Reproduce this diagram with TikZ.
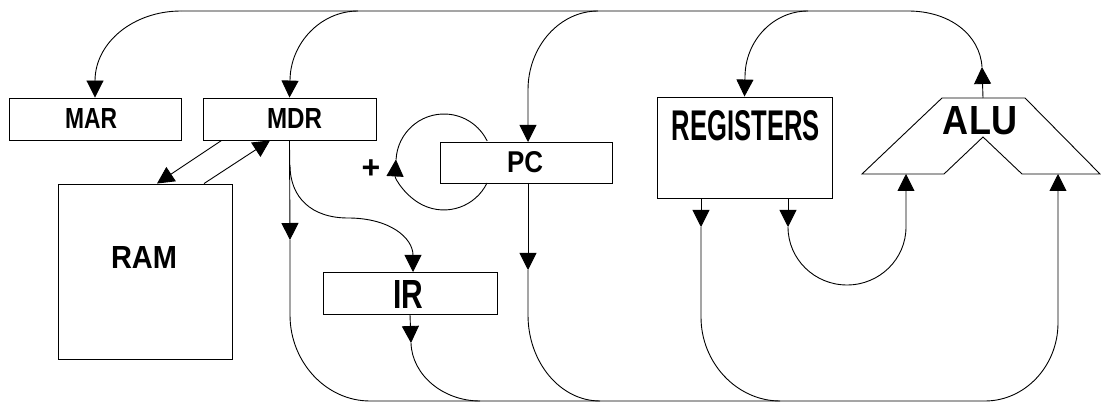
\documentclass[tikz,border=0pt]{standalone}
\usepackage{fontspec}
\setmainfont{Liberation Sans}
\usetikzlibrary{arrows.meta}
\begin{document}
\begin{tikzpicture}[x=1pt,y=-1pt,line width=0.9pt,
  arr/.style={-{Triangle[width=17pt,length=17pt]}},
  box/.style={draw,inner sep=0pt,line width=0.9pt},
  lbl/.style={inner sep=0pt}]
\useasboundingbox (0,0) rectangle (1101,403);

% boxes
\node[box,minimum width=172pt,minimum height=42pt] (MAR) at (95,119) {};
\node[box,minimum width=173pt,minimum height=42pt] (MDR) at (289.5,119) {};
\node[box,minimum width=174pt,minimum height=175pt] (RAM) at (145,271.5) {};
\node[box,minimum width=172pt,minimum height=41pt] (PC) at (526,162.5) {};
\node[box,minimum width=174pt,minimum height=42pt] (IR) at (410,293) {};
\node[box,minimum width=175pt,minimum height=101pt] (REG) at (744.5,147.5) {};
\draw (942,98) -- (1025,98) -- (1100,174) -- (1022,174) -- (983,137) -- (944,174) -- (862,174) -- cycle;
\coordinate (ALUtop) at (983,98);
\coordinate (ALUinL) at (906,174);
\coordinate (ALUinR) at (1058,174);

% labels
\node[lbl] (tMAR) at (91,118.5) {\resizebox{52pt}{20pt}{\textbf{MAR}}};
\node[lbl] (tMDR) at (294.5,118.5) {\resizebox{55pt}{20pt}{\textbf{MDR}}};
\node[lbl] (tRAM) at (144,257) {\resizebox{66pt}{22pt}{\textbf{RAM}}};
\node[lbl] (tPC) at (525,162.5) {\resizebox{36pt}{21pt}{\textbf{PC}}};
\node[lbl] (tIR) at (408,294) {\resizebox{30pt}{28pt}{\textbf{IR}}};
\node[lbl] (tREG) at (746,125.5) {\resizebox{148pt}{30pt}{\textbf{REGISTERS}}};
\node[lbl] (tALU) at (980,121) {\resizebox{74pt}{28pt}{\textbf{ALU}}};
\node[lbl] (plus) at (371,169) {\fontsize{32}{32}\selectfont\textbf{+}};

% top bus
\coordinate (tb1) at (181,11);
\coordinate (tb2) at (908,11);
\draw (tb1) -- (tb2) .. controls (950,11) and (980,35) .. (982,67);
\draw[arr] (ALUtop) -- (982,67);
\draw[arr] (tb1) .. controls (134,11) and (95,42) .. (95,81) -- (MAR.north);
\draw[arr] (358,11) .. controls (321,11) and (290,43) .. (290,81) -- (MDR.north);
\draw[arr] (598,11) .. controls (560,11) and (528,46) .. (528,90) -- (528,142);
\draw[arr] (808,11) .. controls (773,11) and (745,41) .. (745,77) -- (REG.north);

% MDR <-> RAM
\draw[arr] ([xshift=19pt]MDR.south west) -- ([xshift=12pt]RAM.north);
\draw[arr] ([xshift=59pt]RAM.north) -- ([xshift=-19.5pt]MDR.south);

% MDR down to bus, bus to ALU right input
\draw[arr] (MDR.south) -- (290,240);
\draw[arr] (290,240) -- (290,315) .. controls (290,362) and (326,401) .. (370,401)
  -- (985,401) .. controls (1025,401) and (1058,366) .. (1058,323) -- (ALUinR);

% MDR -> IR
\draw[arr] (290,165) .. controls (290,198) and (312,218) .. (348,218)
  .. controls (390,218) and (413,238) .. (413,272);

% IR down to bus
\draw[arr] (IR.south) -- (411,343);
\draw (411,343) .. controls (412,375) and (443,401) .. (480,401);

% PC loop
\draw[arr] (487,183) arc[start angle=26,end angle=183,radius=48];
\draw (444,162) ++(183:48) arc[start angle=183,end angle=334,radius=48];

% PC down to bus
\draw[arr] (528,183) -- (528,270);
\draw (528,270) -- (528,315) .. controls (528,362) and (560,401) .. (600,401);

% REGISTERS outputs
\draw[arr] ([xshift=-43.5pt]REG.south) -- (701,227);
\draw (701,227) -- (701,317) .. controls (701,363) and (737,401) .. (780,401);
\draw[arr] ([xshift=43.5pt]REG.south) -- (788,227);
\draw[arr] (788,227) arc[start angle=180,end angle=0,x radius=59,y radius=58] -- (ALUinL);
\end{tikzpicture}
\end{document}
